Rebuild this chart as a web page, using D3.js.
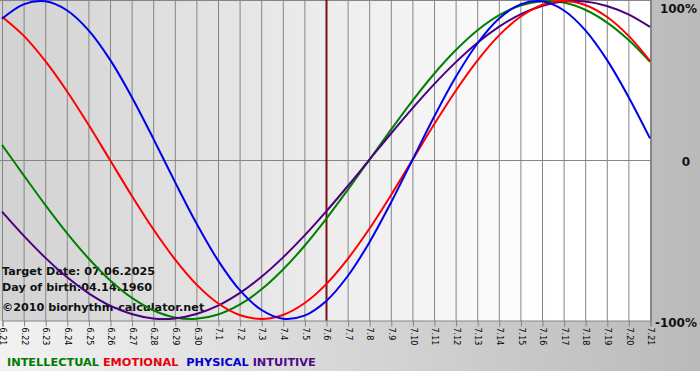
<!DOCTYPE html>
<html><head><meta charset="utf-8">
<script src="https://cdn.jsdelivr.net/npm/d3@7"></script>
<style>body{margin:0;background:#fff}svg{display:block}</style>
</head><body><svg id="c" width="700" height="380"></svg>
<script>
const dates = ["6.21","6.22","6.23","6.24","6.25","6.26","6.27","6.28","6.29","6.30","7.1","7.2","7.3","7.4","7.5","7.6","7.7","7.8","7.9","7.10","7.11","7.12","7.13","7.14","7.15","7.16","7.17","7.18","7.19","7.20","7.21"];
const physical = [0.888,0.979,0.998,0.942,0.817,0.631,0.398,0.136,-0.136,-0.398,-0.631,-0.817,-0.942,-0.998,-0.979,-0.888,-0.731,-0.520,-0.270,0,0.270,0.520,0.731,0.888,0.979,0.998,0.942,0.817,0.631,0.398,0.136];
const emotional = [0.901,0.782,0.623,0.434,0.223,0,-0.223,-0.434,-0.623,-0.782,-0.901,-0.975,-1,-0.975,-0.901,-0.782,-0.623,-0.434,-0.223,0,0.223,0.434,0.623,0.782,0.901,0.975,1,0.975,0.901,0.782,0.623];
const intellectual = [0.095,-0.095,-0.282,-0.458,-0.618,-0.756,-0.866,-0.945,-0.990,-0.999,-0.972,-0.910,-0.815,-0.690,-0.541,-0.372,-0.189,0,0.189,0.372,0.541,0.690,0.815,0.910,0.972,0.999,0.990,0.945,0.866,0.756,0.618];
const intuitive = [-0.325,-0.476,-0.614,-0.736,-0.837,-0.916,-0.969,-0.997,-0.997,-0.969,-0.916,-0.837,-0.736,-0.614,-0.476,-0.325,-0.165,0,0.165,0.325,0.476,0.614,0.736,0.837,0.916,0.969,0.997,0.997,0.969,0.916,0.837];
const yTicks = [1,0,-1];
const yTickLabels = ["100%","0","-100%"];
const targetDate = "7.6";
const infoLines = ["Target Date: 07.06.2025","Day of birth:04.14.1960","\u00a92010 biorhythm-calculator.net"];
const legend = [["INTELLECTUAL","#007a00"],["EMOTIONAL","#e8000b"],["PHYSICAL","#0000d0"],["INTUITIVE","#4e0a86"]];

const svg = d3.select("#c");
const defs = svg.append("defs");
const g1 = defs.append("linearGradient").attr("id","outer").attr("x1","0").attr("x2","1");
g1.append("stop").attr("offset","0").attr("stop-color","#f2f2f2");
g1.append("stop").attr("offset","1").attr("stop-color","#bababa");
const g2 = defs.append("linearGradient").attr("id","plot").attr("x1","0").attr("x2","1");
g2.append("stop").attr("offset","0").attr("stop-color","#d2d2d2");
g2.append("stop").attr("offset","0.85").attr("stop-color","#ffffff");
g2.append("stop").attr("offset","1").attr("stop-color","#ffffff");
defs.append("clipPath").attr("id","clip").append("rect").attr("x",0).attr("y",0).attr("width",651).attr("height",321);

svg.append("rect").attr("x",0).attr("y",0).attr("width",700).attr("height",371).attr("fill","url(#outer)");
svg.append("rect").attr("x",0).attr("y",0).attr("width",651).attr("height",321).attr("fill","url(#plot)");

const x = d3.scalePoint().domain(dates).range([2,650]);
const y = d3.scaleLinear().domain([-1,1]).range([319,1]);

// grid
const grid = svg.append("g");
grid.selectAll("line.v").data(dates).join("line")
  .attr("x1",d=>x(d)+0.5).attr("x2",d=>x(d)+0.5).attr("y1",0).attr("y2",321)
  .attr("stroke","#858585").attr("stroke-width",1);
grid.append("line").attr("x1",0).attr("x2",651).attr("y1",y(0)+0.5).attr("y2",y(0)+0.5).attr("stroke","#858585");
grid.append("line").attr("x1",0).attr("x2",651).attr("y1",0.5).attr("y2",0.5).attr("stroke","#858585");
grid.append("line").attr("x1",651.5).attr("x2",651.5).attr("y1",0).attr("y2",321).attr("stroke","#858585");

// target line
svg.append("line").attr("x1",x(targetDate)+0.5).attr("x2",x(targetDate)+0.5).attr("y1",0).attr("y2",321)
  .attr("stroke","#7a1010").attr("stroke-width",2);

// x axis
const xAxis = d3.axisBottom(x).tickSize(6).tickPadding(3);
const ax = svg.append("g").attr("transform","translate(0.5,320.5)").call(xAxis);
ax.select(".domain").attr("stroke","#858585");
ax.selectAll(".tick line").attr("stroke","#858585");
ax.selectAll(".tick text").attr("transform","rotate(90)").attr("text-anchor","start")
  .attr("x",7).attr("y",0).attr("dy","0.35em")
  .style("font-family","Verdana, 'DejaVu Sans', sans-serif").style("font-size","8px").attr("fill","#000");

// info text
const info = svg.append("g").style("font-family","Verdana, 'DejaVu Sans', sans-serif").style("font-weight","bold").style("font-size","11.2px");
info.selectAll("text").data(infoLines).join("text").attr("x",2).attr("y",(d,i)=>[275,291,311][i]).text(d=>d).attr("fill","#111");

// curves
const line = d3.line().x((d,i)=>x(dates[i])).y(d=>y(d)).curve(d3.curveCatmullRom.alpha(0.5));
const series = [[intellectual,"#008000"],[intuitive,"#4b0082"],[emotional,"#ff0000"],[physical,"#0000ee"]];
const cg = svg.append("g").attr("clip-path","url(#clip)");
series.forEach(([vals,col])=>{
  cg.append("path").attr("d",line(vals)).attr("fill","none").attr("stroke",col).attr("stroke-width",2);
});

// right labels
const labelY = {"1":13,"0":166,"-1":327};
svg.append("g").selectAll("text").data(yTicks).join("text")
  .attr("x",(d,i)=>i===1?686:697).attr("y",d=>labelY[String(d)]).attr("text-anchor",(d,i)=>i===1?"middle":"end")
  .style("font-family","Verdana, 'DejaVu Sans', sans-serif").style("font-weight","bold").style("font-size","12px")
  .attr("fill","#111").text((d,i)=>yTickLabels[i]);

// legend
const lg = svg.append("text").attr("x",7).attr("y",366)
  .style("font-family","Verdana, 'DejaVu Sans', sans-serif").style("font-weight","bold").style("font-size","11.3px");
legend.forEach(([t,c],i)=>{
  lg.append("tspan").attr("fill",c).text((i?(i===2?"\u00a0\u00a0":"\u00a0"):"")+t);
});
</script></body></html>
